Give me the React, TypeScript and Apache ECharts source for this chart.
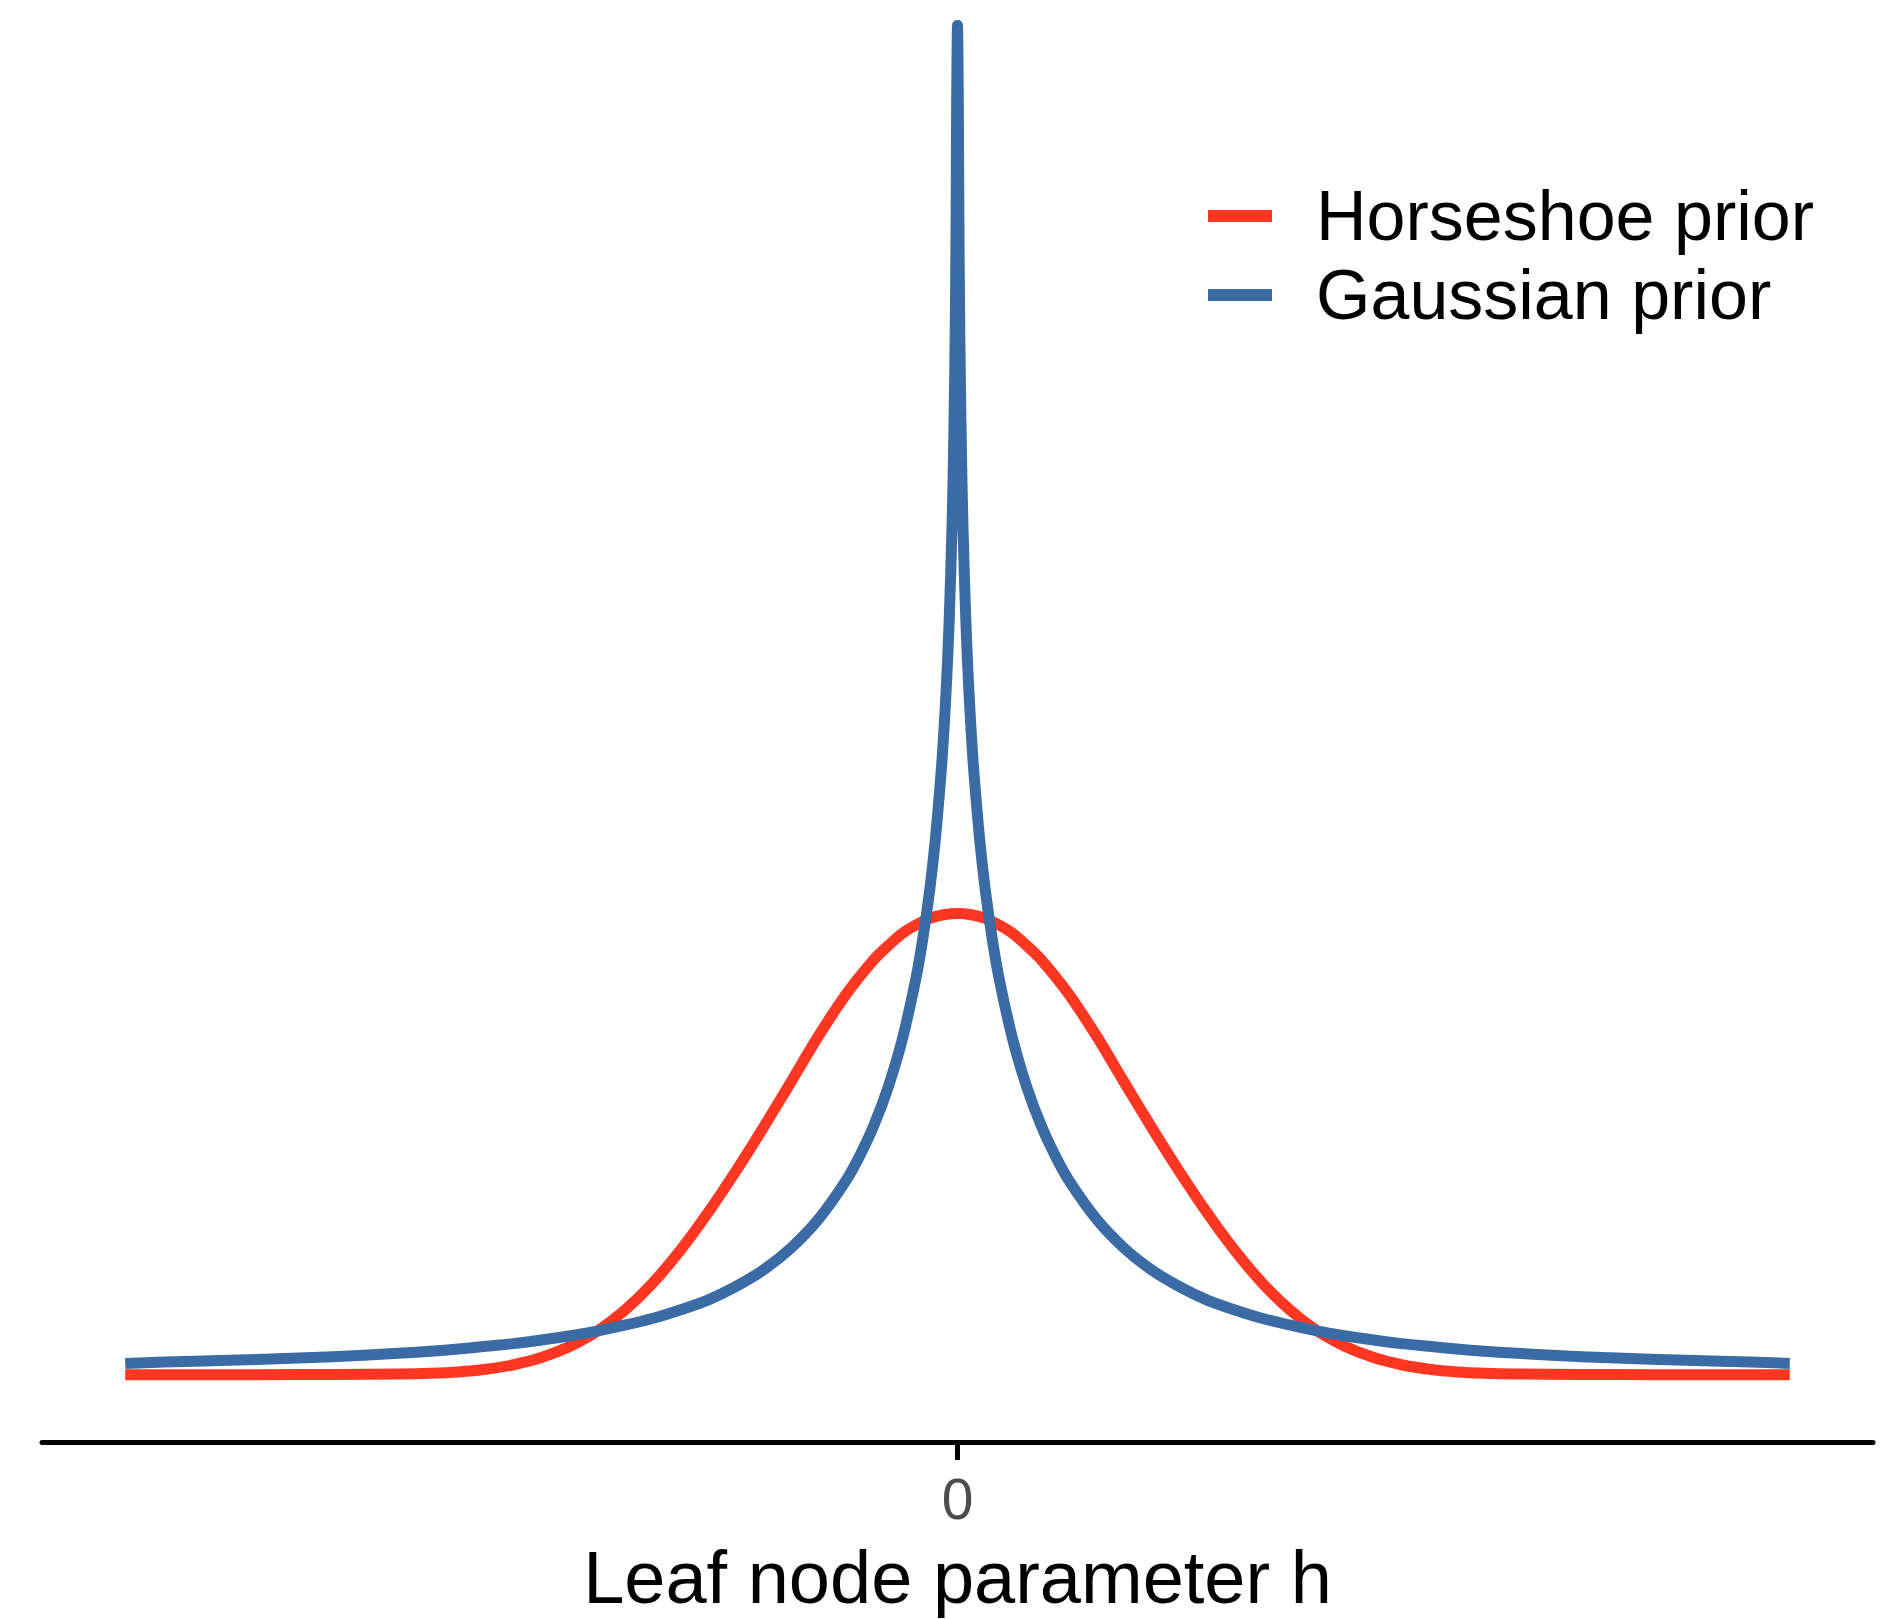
import React, { useEffect, useRef } from "react";
import * as echarts from "echarts";

const seriesNames = ["Horseshoe prior", "Gaussian prior"];
const seriesColors = ["#FF3621", "#3A6BA5"];
const xTickValues = [0];
const xAxisTitle = "Leaf node parameter h";

const redX = [
  -3, -2.75, -2.5, -2.25, -2, -1.9, -1.8, -1.7, -1.6, -1.5, -1.4, -1.3, -1.2, -1.1, -1.0, -0.9, -0.8, -0.7,
  -0.6, -0.5, -0.4, -0.3, -0.25, -0.2, -0.15, -0.1, -0.05, 0, 0.05, 0.1, 0.15, 0.2, 0.25, 0.3, 0.4, 0.5, 0.6,
  0.7, 0.8, 0.9, 1.0, 1.1, 1.2, 1.3, 1.4, 1.5, 1.6, 1.7, 1.8, 1.9, 2, 2.25, 2.5, 2.75, 3,
];
const redY = [
  0.01, 0.01, 0.01, 0.0105, 0.0115, 0.013, 0.016, 0.022, 0.032, 0.048, 0.072, 0.106, 0.153, 0.213, 0.286,
  0.37, 0.462, 0.56, 0.662, 0.765, 0.858, 0.935, 0.965, 0.992, 1.011, 1.026, 1.034, 1.037, 1.034, 1.026,
  1.011, 0.992, 0.965, 0.935, 0.858, 0.765, 0.662, 0.56, 0.462, 0.37, 0.286, 0.213, 0.153, 0.106, 0.072,
  0.048, 0.032, 0.022, 0.016, 0.013, 0.0115, 0.0105, 0.01, 0.01, 0.01,
];

const blueX = [
  -3, -2.75, -2.5, -2.25, -2, -1.9, -1.8, -1.7, -1.6, -1.5, -1.4, -1.3, -1.2, -1.1, -1.0, -0.9, -0.8, -0.7,
  -0.6, -0.5, -0.4, -0.35, -0.3, -0.25, -0.2, -0.15, -0.125, -0.1, -0.08, -0.06, -0.05, -0.04, -0.03, -0.02,
  -0.015, -0.01, -0.0075, -0.005, -0.003, 0, 0.003, 0.005, 0.0075, 0.01, 0.015, 0.02, 0.03, 0.04, 0.05, 0.06,
  0.08, 0.1, 0.125, 0.15, 0.2, 0.25, 0.3, 0.35, 0.4, 0.5, 0.6, 0.7, 0.8, 0.9, 1.0, 1.1, 1.2, 1.3, 1.4, 1.5,
  1.6, 1.7, 1.8, 1.9, 2, 2.25, 2.5, 2.75, 3,
];
const blueY = [
  0.035, 0.04, 0.044, 0.05, 0.058, 0.062, 0.067, 0.073, 0.079, 0.087, 0.096, 0.107, 0.12, 0.135, 0.154, 0.176,
  0.206, 0.243, 0.292, 0.357, 0.444, 0.5, 0.567, 0.65, 0.754, 0.892, 0.981, 1.09, 1.201, 1.344, 1.434, 1.545,
  1.689, 1.892, 2.036, 2.238, 2.382, 2.585, 2.84, 3.014, 2.84, 2.585, 2.382, 2.238, 2.036, 1.892, 1.689, 1.545,
  1.434, 1.344, 1.201, 1.09, 0.981, 0.892, 0.754, 0.65, 0.567, 0.5, 0.444, 0.357, 0.292, 0.243, 0.206, 0.176,
  0.154, 0.135, 0.12, 0.107, 0.096, 0.087, 0.079, 0.073, 0.067, 0.062, 0.058, 0.05, 0.044, 0.04, 0.035,
];

const FONT = "'Liberation Sans', Arial, Helvetica, sans-serif";

export default function App() {
  const ref = useRef<HTMLDivElement>(null);
  useEffect(() => {
    if (!ref.current) return;
    const chart = echarts.init(ref.current, null, { renderer: "svg" });
    const redData = redX.map((x, i) => [x, redY[i]]);
    const blueData = blueX.map((x, i) => [x, blueY[i]]);
    chart.setOption({
      animation: false,
      backgroundColor: "#ffffff",
      grid: { left: 42, right: 22, top: 3, bottom: 174, containLabel: false },
      legend: {
        orient: "vertical",
        left: 1203,
        top: 176,
        icon: "rect",
        itemWidth: 64,
        itemHeight: 12,
        itemGap: 9,
        data: seriesNames,
        textStyle: {
          fontFamily: FONT,
          fontSize: 70,
          lineHeight: 70,
          color: "#000000",
          padding: [0, 0, 0, 39],
        },
      },
      xAxis: {
        type: "value",
        min: -3.3,
        max: 3.3,
        splitLine: { show: false },
        axisLine: { show: true, onZero: false, lineStyle: { color: "#000000", width: 5 } },
        axisTick: { show: true, length: 18, customValues: xTickValues, lineStyle: { color: "#000000", width: 5 } },
        axisLabel: {
          show: true,
          customValues: xTickValues,
          margin: 28,
          fontFamily: FONT,
          fontSize: 57,
          color: "#4D4D4D",
        },
        name: xAxisTitle,
        nameLocation: "middle",
        nameGap: 98,
        nameTextStyle: { fontFamily: FONT, fontSize: 74, color: "#000000", lineHeight: 74 },
      },
      yAxis: {
        type: "value",
        min: -0.14,
        max: 3.064,
        show: false,
        splitLine: { show: false },
      },
      series: [
        {
          name: seriesNames[0],
          type: "line",
          data: redData,
          showSymbol: false,
          symbol: "none",
          smooth: 0.3,
          color: seriesColors[0],
          lineStyle: { color: seriesColors[0], width: 11, cap: "butt", join: "round" },
          z: 2,
        },
        {
          name: seriesNames[1],
          type: "line",
          data: blueData,
          showSymbol: false,
          symbol: "none",
          smooth: 0.3,
          color: seriesColors[1],
          lineStyle: { color: seriesColors[1], width: 11, cap: "butt", join: "round" },
          z: 3,
        },
      ],
    });
    return () => chart.dispose();
  }, []);
  return (
    <div
      ref={ref}
      style={{ position: "absolute", left: 0, top: 0, width: 1895, height: 1619, background: "#fff" }}
    />
  );
}
